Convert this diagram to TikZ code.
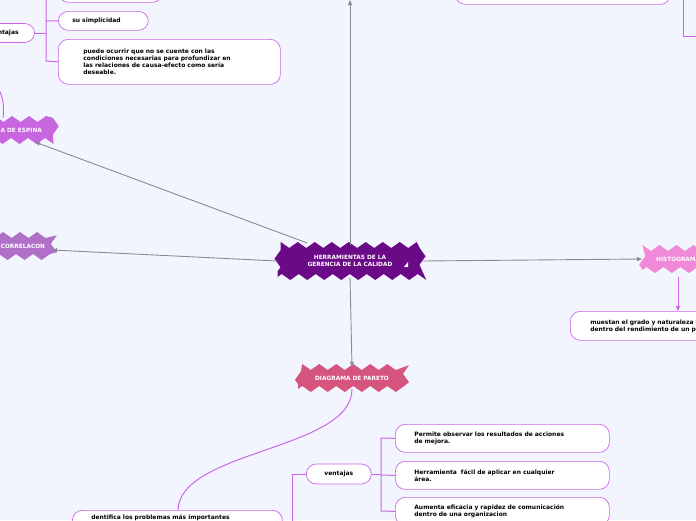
\documentclass[tikz,border=0pt]{standalone}
\usepackage{fontspec}
\setmainfont{DejaVu Sans}
\usetikzlibrary{decorations.pathmorphing,arrows.meta}
\definecolor{bg}{HTML}{F3F5FE}
\definecolor{lin}{HTML}{CC66E8}
\definecolor{gr}{HTML}{8A8A96}
\definecolor{cmain}{HTML}{6A0A86}
\definecolor{cpar}{HTML}{D6557E}
\definecolor{chis}{HTML}{F08AD8}
\definecolor{cesp}{HTML}{C866E0}
\definecolor{ccor}{HTML}{B070C8}
\tikzset{
 burst/.style={fill=#1,draw=none,decorate,decoration={zigzag,segment length=17pt,amplitude=3pt},
   text=white,font=\fontsize{5.8}{6.8}\selectfont\bfseries,align=center,inner sep=7pt},
 leaf/.style={draw=lin,fill=white,rounded corners=10pt,line width=0.7pt,font=\fontsize{6}{7.2}\selectfont\bfseries,align=left,anchor=north west,inner xsep=14pt,inner ysep=5pt},
 garr/.style={draw=gr,line width=0.9pt,-{Triangle[length=5pt,width=4pt]}},
 pl/.style={draw=lin,line width=1pt},
 parr/.style={draw=lin,line width=1pt,-{Triangle[length=5pt,width=4pt]}},
}
\begin{document}
\begin{tikzpicture}[x=1pt,y=-1pt]
\fill[bg] (0,0) rectangle (696,520);
\useasboundingbox (0,0) rectangle (696,520);
\clip (0,0) rectangle (696,520);
% nodes
\node[burst=cmain,minimum width=145pt,minimum height=32pt] (c) at (350,261) {HERRAMIENTAS DE LA\\GERENCIA DE LA CALIDAD};
\fill[white] (404,267) -- (408,262) -- (408,267) -- cycle;
\node[burst=cpar,minimum width=108pt,minimum height=22pt] (p) at (352,378) {DIAGRAMA DE PARETO};
\node[burst=chis,minimum width=72pt,minimum height=22pt,anchor=west] (h) at (642,259) {HISTOGRAMA};
\node[burst=cesp,minimum width=100pt,minimum height=22pt,anchor=east] (e) at (56,130) {DIAGRAMA DE ESPINA};
\node[burst=ccor,minimum width=110pt,minimum height=22pt,anchor=east] (r) at (54,246) {DIAGRAMA DE CORRELACON};
\coordinate (top) at (350,0);
% connectors
\draw[garr] (c.north) -- (top);
\draw[garr] (c.west) ++(30,-18) -- (35,142);
\draw[garr] (c.west) -- (52,250);
\draw[garr] (c.east) -- (h.west);
\draw[garr] (c.south) -- (p.north);
% top left
\node[leaf,text width=40pt,align=right,inner xsep=16pt,minimum height=19pt,anchor=east] (v0) at (35,33) {ventajas};
\node[leaf,text width=76pt,minimum height=19pt] (s0) at (58,-17) {};
\node[leaf,text width=62pt,minimum height=19pt] (s1) at (58,11) {su simplicidad};
\node[leaf,text width=172pt,inner xsep=25pt,minimum height=45pt] (s2) at (58,39) {puede ocurrir que no se cuente con las\\condiciones necesarias para profundizar en\\las relaciones de causa-efecto como sería\\deseable.};
\draw[pl] (v0.east) -- (46,33);
\draw[pl] (46,-5) -- (46,61) -- (s2.west);
\draw[pl] (46,21) -- (s1.west);
\draw[pl] (46,-7) -- (58,-7);
\draw[pl] (-2,88) .. controls (4,98) and (4,108) .. (3,118);
% top right
\node[leaf,text width=187pt,minimum height=24pt] (tr) at (455,-20) {};
\draw[pl] (683,0) -- (683,36) -- (700,36);
% histogram
\node[leaf,text width=160pt,inner xsep=20pt,minimum height=29pt] (hl) at (570,311) {muestan el grado y naturaleza de la variación\\dentro del rendimiento de un proceso};
\draw[parr] (678,277) -- (hl.north -| 678,0);
% pareto
\node[leaf,text width=172pt,inner xsep=19pt,minimum height=30pt,inner ysep=3pt] (id) at (72,510) {dentifica los problemas más importantes\\\rule{0pt}{14pt}};
\draw[pl] (p.south) .. controls (352,450) and (180,450) .. (id.north -| 178,0);
\node[leaf,minimum width=65pt,minimum height=20pt,inner xsep=6pt,align=center,anchor=west] (ve) at (306,474) {ventajas};
\draw[pl] (292,525) -- (292,474) -- (ve.west);
\node[leaf,text width=176pt,inner xsep=19pt,minimum height=28pt] (a1) at (395,424) {Permite observar los resultados de acciones\\de mejora.};
\node[leaf,text width=176pt,inner xsep=19pt,minimum height=28pt] (a2) at (395,461) {Herramienta~ fácil de aplicar en cualquier\\área.};
\node[leaf,text width=176pt,inner xsep=19pt,minimum height=28pt] (a3) at (395,497) {Aumenta eficacia y rapidez de comunicación\\dentro de una organizacion};
\draw[pl] (ve.east) -- (381,474);
\draw[pl] (a1.west) -- (381,438) -- (381,511) -- (a3.west);
\draw[pl] (381,475) -- (a2.west);
\end{tikzpicture}
\end{document}
